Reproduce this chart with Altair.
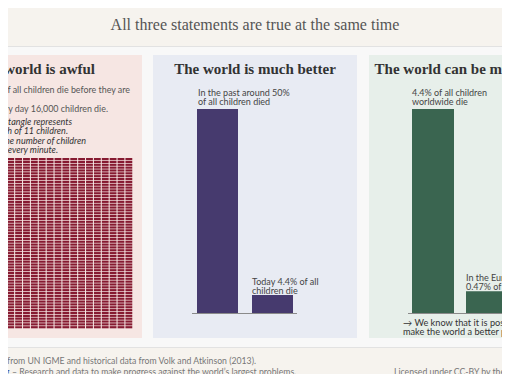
import altair as alt
import pandas as pd

# ---------------- data ----------------
main_title = "All three statements are true at the same time"
panel_titles = ["The world is awful", "The world is much better", "The world can be much better"]

awful_lines = ["4.4% of all children die before they are", "Every day 16,000 children die."]
awful_italic = ["Each rectangle represents", "the death of 11 children.",
                "This is the number of children", "who lose their life every minute."]

# the grid: one rectangle per minute of the day
grid_cols = 24   # hours
grid_rows = 60   # minutes

better_cats = ["Past", "Today"]
better_vals = [50, 4.4]
better_labels = [["In the past around 50%", "of all children died"],
                 ["Today 4.4% of all", "children die"]]

can_cats = ["World", "EU"]
can_vals = [4.4, 0.47]
can_labels = [["4.4% of all children", "worldwide die"],
              ["In the European Union", "0.47% of all children die"]]
can_note = ["\u2192 We know that it is possible to", "make the world a better place."]

source_line = "Source: Child mortality data from UN IGME and historical data from Volk and Atkinson (2013)."
owid_link = "OurWorldInData.org"
owid_rest = "\u2013 Research and data to make progress against the world\u2019s largest problems."
license_line = "Licensed under CC-BY by the author Max Roser."

# ---------------- layout (page pixel coordinates) ----------------
W, H = 494, 366
XS = alt.Scale(domain=[8, 502], range=[0, W])
YS = alt.Scale(domain=[8, 374], range=[0, H])

BG = "#f8f8f8"
HEAD = "#f6f3ee"
SERIF = "Liberation Serif"
SANS = "Lato"

def xy(x="x", y="y", x2=None, y2=None):
    enc = dict(x=alt.X(f"{x}:Q", scale=XS, axis=None),
               y=alt.Y(f"{y}:Q", scale=YS, axis=None))
    if x2:
        enc["x2"] = alt.X2(f"{x2}:Q")
    if y2:
        enc["y2"] = alt.Y2(f"{y2}:Q")
    return enc

boxes = pd.DataFrame([
    dict(x=0, x2=520, y=0, y2=46, c=HEAD),
    dict(x=0, x2=520, y=348, y2=390, c=HEAD),
    dict(x=-62, x2=142, y=55, y2=338, c="#f6e6e3"),
    dict(x=153, x2=357, y=55, y2=338, c="#e8ebf3"),
    dict(x=369, x2=573, y=55, y2=338, c="#e7efea"),
])
box_layer = alt.Chart(boxes).mark_rect().encode(
    **xy("x", "y", "x2", "y2"), color=alt.Color("c:N", scale=None))

seps = pd.DataFrame([dict(x=0, x2=520, y=46.5), dict(x=0, x2=520, y=347.5)])
sep_layer = alt.Chart(seps).mark_rule(color="#e2e2e2", strokeWidth=1).encode(
    x=alt.X("x:Q", scale=XS, axis=None), x2="x2:Q", y=alt.Y("y:Q", scale=YS, axis=None))

base_lines = pd.DataFrame([dict(x=192, x2=297, y=313.5), dict(x=408, x2=520, y=313.5)])
base_layer = alt.Chart(base_lines).mark_rule(color="#8a8a8a", strokeWidth=1).encode(
    x=alt.X("x:Q", scale=XS, axis=None), x2="x2:Q", y=alt.Y("y:Q", scale=YS, axis=None))

# grid of rectangles
cells = pd.DataFrame([dict(c=c, r=r) for c in range(grid_cols) for r in range(grid_rows)])
cells["c2"] = cells["c"] + 0.87
cells["r2"] = cells["r"] + 0.76
grid_layer = alt.Chart(cells).mark_rect(color="#861a31").encode(
    x=alt.X("c:Q", scale=alt.Scale(domain=[0, grid_cols], range=[-55.7 - 8, 133.3 - 8]), axis=None),
    x2="c2:Q",
    y=alt.Y("r:Q", scale=alt.Scale(domain=[0, grid_rows], range=[158 - 8, 329 - 8]), axis=None),
    y2="r2:Q",
)

def bar_layer(cats, vals, xpos, vmax, color):
    df = pd.DataFrame(dict(cat=cats, v=vals, x=[p[0] for p in xpos], x2=[p[1] for p in xpos]))
    return alt.Chart(df).mark_rect(color=color).encode(
        x=alt.X("x:Q", scale=XS, axis=None), x2="x2:Q",
        y=alt.Y("v:Q", scale=alt.Scale(domain=[0, vmax], range=[313 - 8, 109 - 8]), axis=None),
        y2=alt.datum(0),
    )

bars2 = bar_layer(better_cats, better_vals, [(197, 238), (252, 293)], better_vals[0], "#463a6e")
bars3 = bar_layer(can_cats, can_vals, [(412, 454), (466, 508)], can_vals[0], "#3a6550")

def text_layer(rows, font=SANS, size=10, color="#444", align="left", baseline="middle",
               style="normal", weight="normal"):
    df = pd.DataFrame(rows, columns=["x", "y", "t"])
    return alt.Chart(df).mark_text(font=font, fontSize=size, color=color, align=align,
                                   baseline=baseline, fontStyle=style, fontWeight=weight).encode(
        **xy(), text="t:N")

texts = [
    text_layer([(255, 25, main_title)], font=SERIF, size=16, color="#555", align="center"),
    text_layer([(95, 74, panel_titles[0])], font=SERIF, size=15, color="#333", align="right",
               baseline="alphabetic", weight="bold"),
    text_layer([(255, 74, panel_titles[1]), (471, 74, panel_titles[2])], font=SERIF, size=15,
               color="#333", align="center", baseline="alphabetic", weight="bold"),
    text_layer([(130, 90, awful_lines[0]), (108, 109, awful_lines[1])], size=8.9, color="#555",
               align="right"),
    text_layer([(72, 122, awful_italic[0]), (68, 131, awful_italic[1]),
                (86, 140.5, awful_italic[2]), (58, 150, awful_italic[3])],
               size=9, color="#333", align="right", style="italic"),
    text_layer([(198, 93, better_labels[0][0]), (198, 102, better_labels[0][1]),
                (252, 282, better_labels[1][0]), (252, 291, better_labels[1][1]),
                (412, 93, can_labels[0][0]), (412, 102, can_labels[0][1]),
                (466, 278, can_labels[1][0]), (466, 287, can_labels[1][1])],
               size=9, color="#444"),
    text_layer([(403, 323, can_note[0]), (403, 332, can_note[1])], size=9.2, color="#333"),
    text_layer([(256, 361, source_line)], size=8.7, color="#777", align="right"),
    text_layer([(9.5, 372, owid_link)], size=8.7, color="#3d5aa8", align="right"),
    text_layer([(12, 372, owid_rest), (394, 372, license_line)], size=8.7, color="#777"),
]

chart = alt.layer(
    box_layer, sep_layer, grid_layer, bars2, bars3, base_layer, *texts
).resolve_scale(x="independent", y="independent").properties(
    width=W, height=H, background=BG, padding=0,
    autosize=alt.AutoSizeParams(type="none"),
).configure_view(stroke=None)

chart.save("out.html", embed_options={"renderer": "svg", "actions": False})
